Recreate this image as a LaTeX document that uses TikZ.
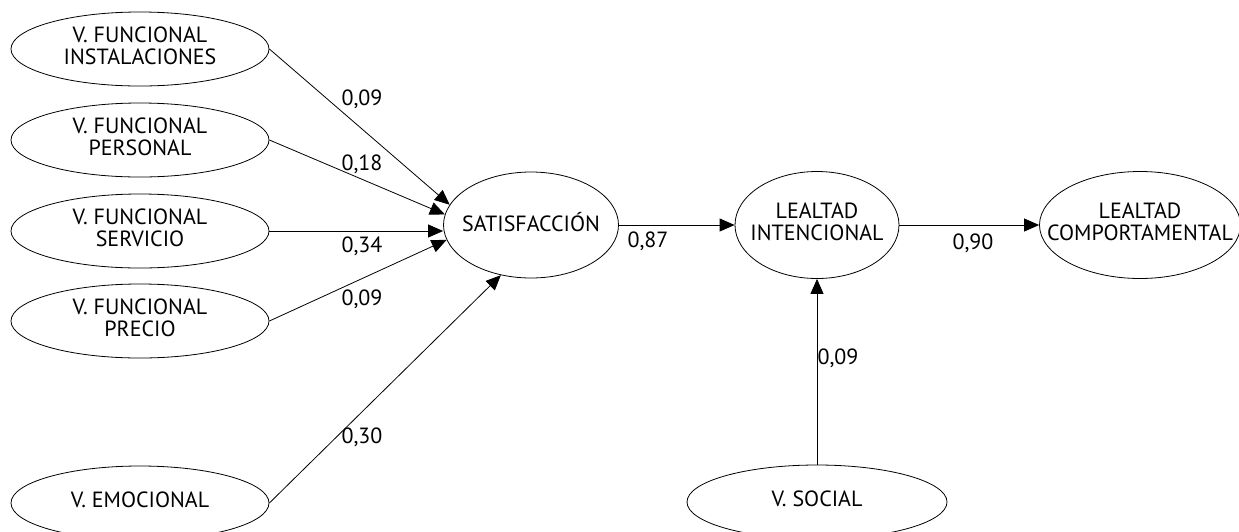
\documentclass[tikz,border=0pt]{standalone}
\usepackage{fontspec}
\setmainfont{PT Sans}
\usetikzlibrary{shapes.geometric,arrows.meta}
\newcommand\ctxt[1]{\makebox[0pt][c]{\begin{tabular}{@{}c@{}}#1\end{tabular}}}
\begin{document}
\begin{tikzpicture}[x=1pt,y=-1pt,
  var/.style={draw=black,line width=0.8pt,ellipse,inner sep=0pt,
    font=\fontsize{22}{22.5}\selectfont},
  lv/.style={var,minimum width=258pt,minimum height=74pt},
  coef/.style={font=\fontsize{22}{22}\selectfont,inner sep=0pt},
  path/.style={draw=black,line width=0.8pt,-{Triangle[length=15pt,width=13pt]}}]
\useasboundingbox (0,0) rectangle (1239,531);
\node[lv] (ins) at (140,49) {\ctxt{V. FUNCIONAL\\INSTALACIONES}};
\node[lv] (per) at (140,140) {\ctxt{V. FUNCIONAL\\PERSONAL}};
\node[lv] (ser) at (140,231) {\ctxt{V. FUNCIONAL\\SERVICIO}};
\node[lv] (pre) at (140,321) {\ctxt{V. FUNCIONAL\\PRECIO}};
\node[lv] (emo) at (140,503) {\ctxt{V. EMOCIONAL}};
\node[var,minimum width=175pt,minimum height=106pt] (sat) at (531,225) {\ctxt{SATISFACCIÓN}};
\node[var,minimum width=164pt,minimum height=107pt] (lin) at (817,225) {\ctxt{LEALTAD\\INTENCIONAL}};
\node[var,minimum width=201pt,minimum height=107pt] (lco) at (1140,225) {\ctxt{LEALTAD\\COMPORTAMENTAL}};
\node[var,minimum width=260pt,minimum height=74pt] (soc) at (817,502) {\ctxt{V. SOCIAL}};
\draw[path] (ins.east) -- (sat.166);
\draw[path] (per.east) -- (sat.173);
\draw[path] (ser.east) -- (ser.east -| sat.west);
\draw[path] (pre.east) -- (sat.190);
\draw[path] (emo.east) -- (sat.239);
\draw[path] (sat.east) -- (lin.west);
\draw[path] (lin.east) -- (lco.west);
\draw[path] (soc.north) -- (lin.south);
\node[coef] (c1) at (362,99) {0,09};
\node[coef] (c2) at (362,164) {0,18};
\node[coef] (c3) at (362,246) {0,34};
\node[coef] (c4) at (362,299) {0,09};
\node[coef] (c5) at (362,437) {0,30};
\node[coef] (c6) at (648,241) {0,87};
\node[coef] (c7) at (973,243) {0,90};
\node[coef] (c8) at (838,358) {0,09};
\end{tikzpicture}
\end{document}
